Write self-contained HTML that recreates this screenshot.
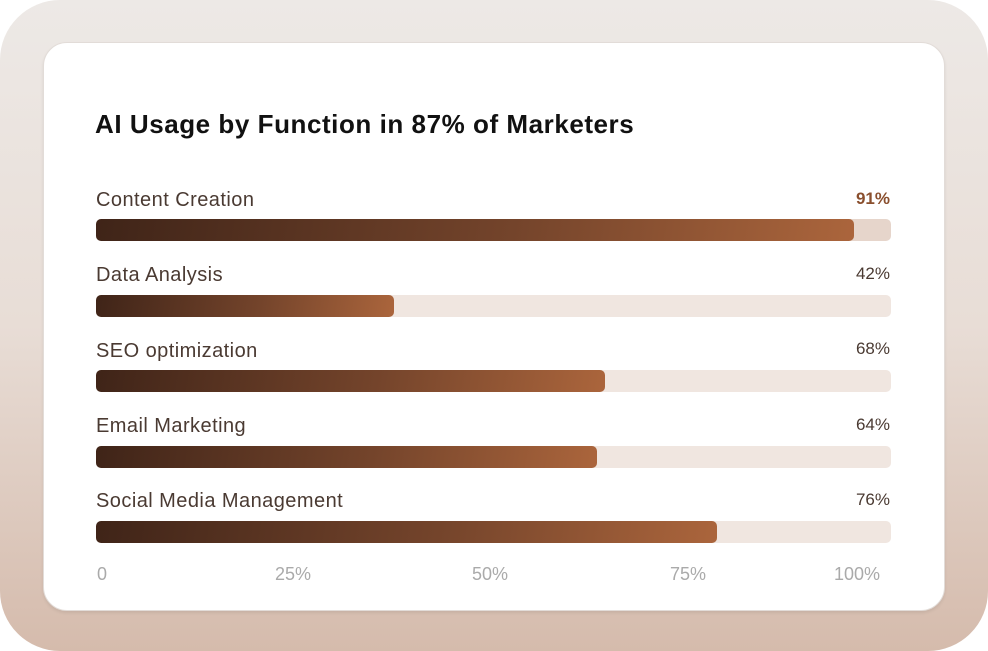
<!DOCTYPE html>
<html><head><style>
html,body{margin:0;padding:0;background:#fff;}
.bg{position:absolute;left:0;top:0;width:988px;height:651px;border-radius:60px;background:linear-gradient(180deg,#ede9e6 0%,#e8ddd6 50%,#d5bbac 100%);overflow:hidden;}
.card{position:absolute;left:43px;top:42px;width:900px;height:567px;background:#fff;border-radius:24px;border:1px solid #e2dcd8;box-shadow:0 2px 3px rgba(0,0,0,0.08);}
.t{position:absolute;font-family:"Liberation Sans",sans-serif;}
.title{left:95px;top:109px;font-size:26px;letter-spacing:0.55px;font-weight:bold;color:#111;}
.lab{left:96px;font-size:20px;letter-spacing:0.45px;color:#4a3a32;}
.pct{right:98px;font-size:17px;color:#4a3a32;}
.track{position:absolute;left:96px;width:795px;height:22px;border-radius:5px;background:#f0e6e0;}
.fill{position:absolute;left:0;top:0;height:22px;border-radius:5px;background:linear-gradient(100deg,#3f2418 0%,#74442b 55%,#ab653c 100%);}
.tick{top:564px;font-size:18px;color:#aaa;}
</style></head><body>
<div class="bg"></div>
<div class="card"></div>
<div class="t title">AI Usage by Function in 87% of Marketers</div>

<div class="t lab" style="top:189px">Content Creation</div>
<div class="t pct" style="top:189px;color:#8a4f2e;font-weight:bold">91%</div>
<div class="track" style="top:219px;background:#e6d5cb"><div class="fill" style="width:758px"></div></div>

<div class="t lab" style="top:264px">Data Analysis</div>
<div class="t pct" style="top:264px">42%</div>
<div class="track" style="top:295px"><div class="fill" style="width:298px"></div></div>

<div class="t lab" style="top:340px">SEO optimization</div>
<div class="t pct" style="top:339px">68%</div>
<div class="track" style="top:370px"><div class="fill" style="width:509px"></div></div>

<div class="t lab" style="top:415px">Email Marketing</div>
<div class="t pct" style="top:415px">64%</div>
<div class="track" style="top:446px"><div class="fill" style="width:501px"></div></div>

<div class="t lab" style="top:490px">Social Media Management</div>
<div class="t pct" style="top:490px">76%</div>
<div class="track" style="top:521px"><div class="fill" style="width:621px"></div></div>

<div class="t tick" style="left:97px">0</div>
<div class="t tick" style="left:275px">25%</div>
<div class="t tick" style="left:472px">50%</div>
<div class="t tick" style="left:670px">75%</div>
<div class="t tick" style="left:834px">100%</div>
</body></html>
